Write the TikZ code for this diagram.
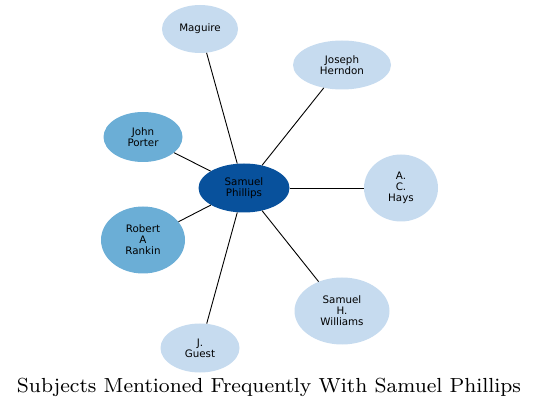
\documentclass[tikz,border=0pt]{standalone}
\usepackage{fontspec}
\usepackage{graphicx}
\usetikzlibrary{positioning}
\usetikzlibrary{shapes.geometric}
\newfontfamily\labelfont{DejaVu Sans}
\definecolor{darkblue}{HTML}{08519C}
\definecolor{midblue}{HTML}{6BAED6}
\definecolor{paleblue}{HTML}{C6DBEF}

\begin{document}
\begin{tikzpicture}[x=1pt, y=-1pt,
mainnode/.style={ellipse, fill=darkblue, draw=none, inner sep=0pt, align=center, font=\labelfont\fontsize{10.3}{11}\selectfont},
nearnode/.style={ellipse, fill=midblue, draw=none, inner sep=0pt, align=center, font=\labelfont\fontsize{10.3}{11}\selectfont},
farnode/.style={ellipse, fill=paleblue, draw=none, inner sep=0pt, align=center, font=\labelfont\fontsize{10.3}{11}\selectfont},
]
\useasboundingbox (0,0) rectangle (539,409);
%Nodes
\node[mainnode, minimum width=91pt, minimum height=49pt]      (phillips)   at (244,188)    {Samuel\\Phillips};
\node[farnode, minimum width=76pt, minimum height=48pt]       (maguire)    at (200,29)     {Maguire};
\node[farnode, minimum width=98pt, minimum height=49pt]       (herndon)    at (342,65)     {Joseph\\Herndon};
\node[nearnode, minimum width=79pt, minimum height=50pt]      (porter)     at (143,137)    {John\\Porter};
\node[farnode, minimum width=74pt, minimum height=67pt]       (hays)       at (401,188)    {A.\\C.\\Hays};
\node[nearnode, minimum width=84pt, minimum height=67pt]      (rankin)     at (143,240)    {Robert\\A\\Rankin};
\node[farnode, minimum width=95pt, minimum height=67pt]       (williams)   at (342,311)    {Samuel\\H.\\Williams};
\node[farnode, minimum width=79pt, minimum height=49pt]       (guest)      at (200,348)    {J.\\Guest};
\node (title) at (269,387) {\resizebox{504pt}{!}{\fontsize{8}{9}\selectfont Subjects Mentioned Frequently With Samuel Phillips}};

%Lines
\draw[line width=0.9pt] (phillips) -- (maguire);
\draw[line width=0.9pt] (phillips) -- (herndon);
\draw[line width=0.9pt] (phillips) -- (porter);
\draw[line width=0.9pt] (phillips) -- (hays);
\draw[line width=0.9pt] (phillips) -- (rankin);
\draw[line width=0.9pt] (phillips) -- (williams);
\draw[line width=0.9pt] (phillips) -- (guest);
\end{tikzpicture}
\end{document}
